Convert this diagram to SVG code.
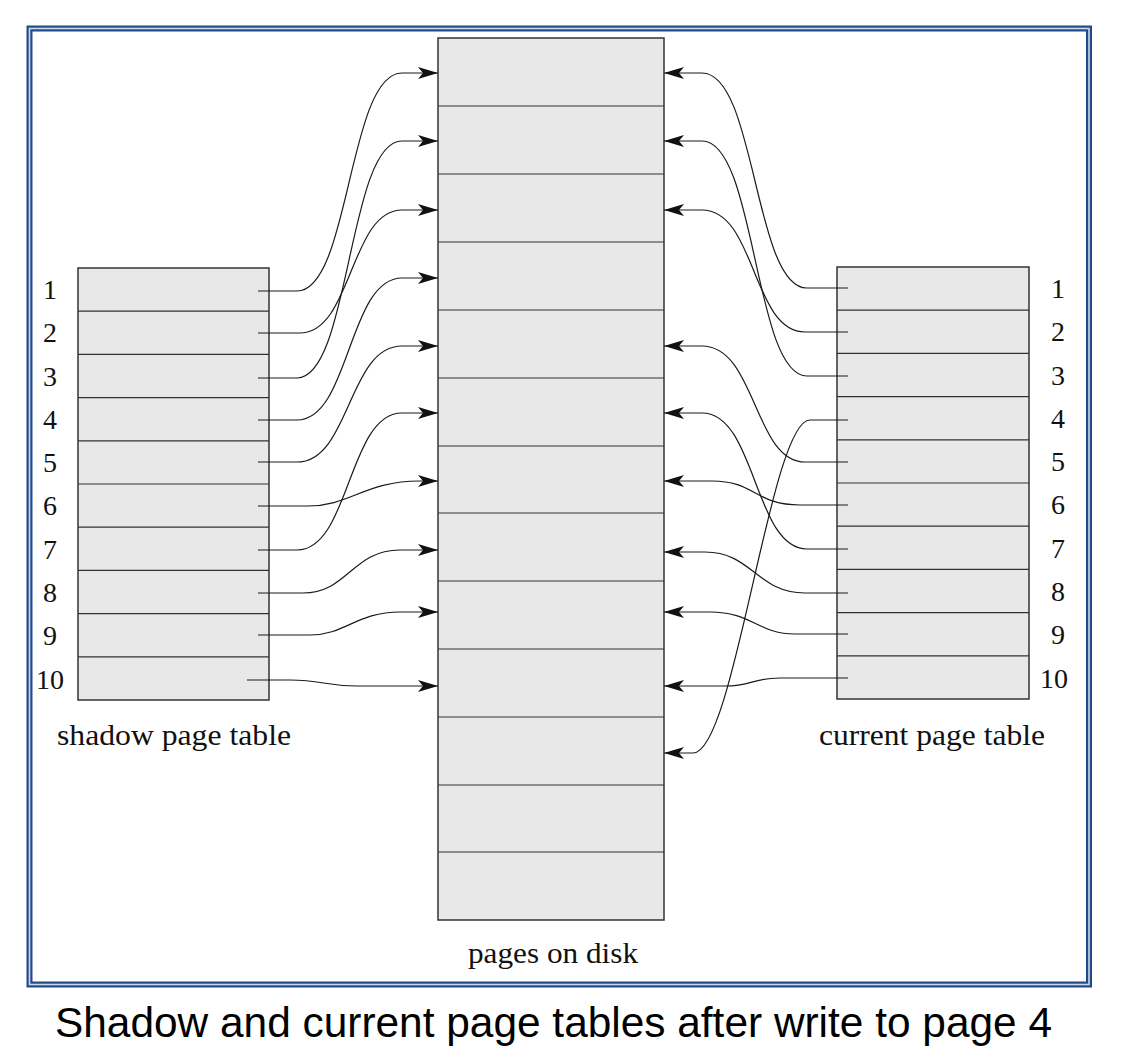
<svg xmlns="http://www.w3.org/2000/svg" width="1146" height="1060" viewBox="0 0 1146 1060">
<style>
.tbl{fill:#e8e8e8;stroke:#333;stroke-width:1.5}
.div{stroke:#333;stroke-width:1.2;fill:none}
.num{font-family:"Liberation Serif","Times New Roman",serif;font-size:28px;fill:#111;text-anchor:middle}
.lbl{font-family:"Liberation Serif","Times New Roman",serif;font-size:29px;fill:#111}
.cap{font-family:"Liberation Sans",Arial,sans-serif;font-size:42px;fill:#000}
.ptr{fill:none;stroke:#1a1a1a;stroke-width:1.2;marker-end:url(#ah)}
</style>
<defs>
<marker id="ah" markerUnits="userSpaceOnUse" viewBox="0 -6 20 12" refX="20" refY="0" markerWidth="20" markerHeight="12" orient="auto">
<path d="M0,-6 L20,0 L0,6 L5,0 Z" fill="#111"/>
</marker>
</defs>
<rect width="1146" height="1060" fill="#fff"/>
<g id="frame">
<rect x="29.5" y="28.5" width="1059.5" height="956" fill="none" stroke="#204b8a" stroke-width="6"/>
<rect x="29.5" y="28.5" width="1059.5" height="956" fill="none" stroke="#cfd8e6" stroke-width="1.6"/>
</g>
<g id="pages-on-disk">
<rect class="tbl" x="438" y="38" width="226" height="882"/>
<path class="div" d="M438,106H664M438,174H664M438,242H664M438,310H664M438,378H664M438,446H664M438,513H664M438,581H664M438,649H664M438,717H664M438,785H664M438,852H664"/>
<text class="lbl" x="468" y="963" textLength="170" lengthAdjust="spacingAndGlyphs">pages on disk</text>
</g>
<g id="shadow-page-table">
<rect class="tbl" x="78" y="268" width="191" height="432"/>
<path class="div" d="M78,311.2H269M78,354.4H269M78,397.6H269M78,440.8H269M78,484H269M78,527.2H269M78,570.4H269M78,613.6H269M78,656.8H269"/>
<text class="num" x="50" y="299">1</text>
<text class="num" x="50" y="342">2</text>
<text class="num" x="50" y="386">3</text>
<text class="num" x="50" y="429">4</text>
<text class="num" x="50" y="472">5</text>
<text class="num" x="50" y="515">6</text>
<text class="num" x="50" y="559">7</text>
<text class="num" x="50" y="602">8</text>
<text class="num" x="50" y="645">9</text>
<text class="num" x="50" y="689">10</text>
<text class="lbl" x="57" y="745" textLength="234" lengthAdjust="spacingAndGlyphs">shadow page table</text>
</g>
<g id="current-page-table">
<rect class="tbl" x="837" y="267" width="192" height="432"/>
<path class="div" d="M837,310.2H1029M837,353.4H1029M837,396.6H1029M837,439.8H1029M837,483H1029M837,526.2H1029M837,569.4H1029M837,612.6H1029M837,655.8H1029"/>
<text class="num" x="1058" y="298">1</text>
<text class="num" x="1058" y="341">2</text>
<text class="num" x="1058" y="385">3</text>
<text class="num" x="1058" y="428">4</text>
<text class="num" x="1058" y="471">5</text>
<text class="num" x="1058" y="514">6</text>
<text class="num" x="1058" y="558">7</text>
<text class="num" x="1058" y="601">8</text>
<text class="num" x="1058" y="644">9</text>
<text class="num" x="1054" y="688">10</text>
<text class="lbl" x="819" y="745" textLength="226" lengthAdjust="spacingAndGlyphs">current page table</text>
</g>
<g id="connectors">
<path class="ptr" d="M258,291 H297 C350,291 348,73 402,73 H438"/>
<path class="ptr" d="M258,333 H300 C352,333 350,210 402,210 H438"/>
<path class="ptr" d="M258,378 H297 C350,378 348,141 402,141 H438"/>
<path class="ptr" d="M258,420 H297 C350,420 348,278 402,278 H438"/>
<path class="ptr" d="M258,462 H297 C350,462 348,346 402,346 H438"/>
<path class="ptr" d="M258,506 H308 C350,506 365,481 420,481 H438"/>
<path class="ptr" d="M258,550 H297 C350,550 348,413 402,413 H438"/>
<path class="ptr" d="M258,593 H303 C348,593 352,550 400,550 H438"/>
<path class="ptr" d="M258,635 H310 C345,635 357,612 400,612 H438"/>
<path class="ptr" d="M247,680 H290 C322,680 325,686 357,686 H438"/>
<path class="ptr" d="M848,288 H807 C754,288 756,73 702,73 H664"/>
<path class="ptr" d="M848,332 H805 C752,332 756,210 702,210 H664"/>
<path class="ptr" d="M848,376 H807 C754,376 756,141 702,141 H664"/>
<path class="ptr" d="M848,420 H810 C770,420 735,753 693,753 H664"/>
<path class="ptr" d="M848,462 H805 C754,462 756,346 702,346 H664"/>
<path class="ptr" d="M848,505 H800 C755,505 755,481 712,481 H664"/>
<path class="ptr" d="M848,549 H807 C754,549 756,413 702,413 H664"/>
<path class="ptr" d="M848,593 H805 C757,593 752,552 705,552 H664"/>
<path class="ptr" d="M848,634 H795 C758,634 752,612 710,612 H664"/>
<path class="ptr" d="M848,678 H780 C752,678 752,686 725,686 H664"/>
</g>
<text class="cap" x="55" y="1037" textLength="997" lengthAdjust="spacingAndGlyphs">Shadow and current page tables after write to page 4</text>
</svg>
